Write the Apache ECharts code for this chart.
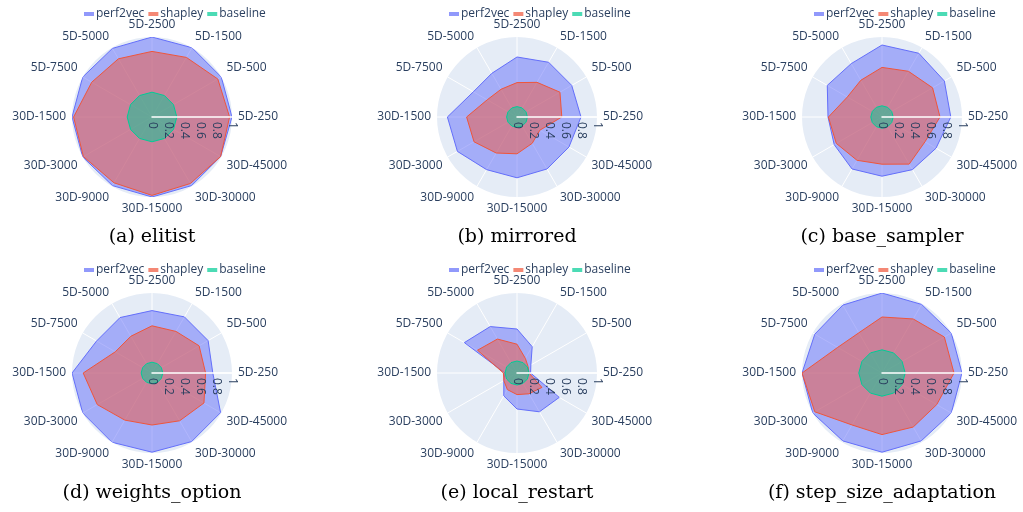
<!DOCTYPE html>
<html>
<head>
<meta charset="utf-8">
<script src="https://cdn.jsdelivr.net/npm/echarts@6/dist/echarts.min.js"></script>
<style>
  html, body { margin: 0; padding: 0; background: #fff; }
  #main { width: 1023px; height: 512px; }
</style>
</head>
<body>
<div id="main"></div>
<script>
// categories, counter-clockwise from the right
var categories = ['5D-250', '5D-500', '5D-1500', '5D-2500', '5D-5000', '5D-7500',
                  '30D-1500', '30D-3000', '30D-9000', '30D-15000', '30D-30000', '30D-45000'];
var radialTicks = [0, 0.2, 0.4, 0.6, 0.8, 1];
var seriesNames = ['perf2vec', 'shapley', 'baseline'];
var captions = ['(a) elitist', '(b) mirrored', '(c) base_sampler',
                '(d) weights_option', '(e) local_restart', '(f) step_size_adaptation'];

// (a) elitist
var elitist_perf2vec = [1.0, 1.0, 1.0, 1.0, 0.99, 1.0, 1.0, 1.0, 0.99, 1.0, 0.99, 0.99];
var elitist_shapley  = [0.97, 0.95, 0.86, 0.82, 0.84, 0.87, 0.98, 0.99, 0.95, 0.98, 0.96, 0.99];
var elitist_baseline = [0.31, 0.31, 0.31, 0.31, 0.31, 0.31, 0.31, 0.31, 0.31, 0.31, 0.31, 0.31];
// (b) mirrored
var mirrored_perf2vec = [0.80, 0.79, 0.79, 0.75, 0.63, 0.63, 0.87, 0.86, 0.76, 0.76, 0.75, 0.75];
var mirrored_shapley  = [0.56, 0.62, 0.50, 0.43, 0.40, 0.43, 0.63, 0.62, 0.52, 0.46, 0.38, 0.33];
var mirrored_baseline = [0.13, 0.13, 0.13, 0.13, 0.13, 0.13, 0.13, 0.13, 0.13, 0.13, 0.13, 0.13];
// (c) base_sampler
var sampler_perf2vec = [0.86, 0.90, 0.92, 0.90, 0.77, 0.79, 0.675, 0.69, 0.75, 0.74, 0.76, 0.78];
var sampler_shapley  = [0.725, 0.73, 0.66, 0.62, 0.53, 0.50, 0.67, 0.66, 0.625, 0.59, 0.68, 0.62];
var sampler_baseline = [0.14, 0.14, 0.14, 0.14, 0.14, 0.14, 0.14, 0.14, 0.14, 0.14, 0.14, 0.14];
// (d) weights_option
var weights_perf2vec = [0.76, 0.81, 0.81, 0.78, 0.80, 0.80, 1.0, 1.0, 1.0, 0.99, 0.99, 0.99];
var weights_shapley  = [0.67, 0.68, 0.60, 0.59, 0.53, 0.53, 0.86, 0.79, 0.68, 0.65, 0.69, 0.75];
var weights_baseline = [0.135, 0.135, 0.135, 0.135, 0.135, 0.135, 0.135, 0.135, 0.135, 0.135, 0.135, 0.135];
// (e) local_restart
var restart_perf2vec = [0.17, 0.20, 0.38, 0.55, 0.67, 0.76, 0.15, 0.19, 0.33, 0.45, 0.56, 0.61];
var restart_shapley  = [0.15, 0.16, 0.21, 0.36, 0.49, 0.57, 0.17, 0.19, 0.24, 0.27, 0.30, 0.36];
var restart_baseline = [0.15, 0.15, 0.15, 0.15, 0.15, 0.15, 0.15, 0.15, 0.15, 0.15, 0.15, 0.15];
// (f) step_size_adaptation
var stepsize_perf2vec = [1.0, 1.0, 0.99, 1.0, 0.98, 0.97, 1.0, 1.0, 0.98, 0.99, 0.98, 1.0];
var stepsize_shapley  = [0.90, 0.90, 0.78, 0.70, 0.58, 0.64, 1.0, 0.97, 0.75, 0.77, 0.78, 0.79];
var stepsize_baseline = [0.29, 0.29, 0.29, 0.29, 0.29, 0.29, 0.29, 0.29, 0.29, 0.29, 0.29, 0.29];

var panels = [
  [elitist_perf2vec, elitist_shapley, elitist_baseline],
  [mirrored_perf2vec, mirrored_shapley, mirrored_baseline],
  [sampler_perf2vec, sampler_shapley, sampler_baseline],
  [weights_perf2vec, weights_shapley, weights_baseline],
  [restart_perf2vec, restart_shapley, restart_baseline],
  [stepsize_perf2vec, stepsize_shapley, stepsize_baseline]
];

var colors = ['#636efa', '#ef553b', '#00cc96'];
var txt = '#2a3f5f';
var centersX = [152, 517, 882];
var centersY = [117, 373];
var R = 80;

function toPolar(vals) {
  var out = [];
  for (var i = 0; i < vals.length; i++) out.push([vals[i], i * 30]);
  out.push([vals[0], 360]);   // close the shape
  return out;
}

var option = {
  animation: false,
  polar: [], angleAxis: [], radiusAxis: [], legend: [], series: [], graphic: []
};

for (var k = 0; k < panels.length; k++) {
  var cx = centersX[k % 3], cy = centersY[Math.floor(k / 3)];
  var pData = 2 * k, pTop = 2 * k + 1;

  // polar with grid + data
  option.polar.push({ center: [cx, cy], radius: R });
  option.angleAxis.push({
    polarIndex: pData, type: 'value', min: 0, max: 360, interval: 30,
    startAngle: 0, clockwise: false,
    axisLine: { show: false }, axisTick: { show: false },
    splitLine: { lineStyle: { color: '#fff', width: 1 } },
    axisLabel: {
      margin: 6, color: txt, fontSize: 12, fontFamily: 'Open Sans',
      formatter: function (v) { return categories[Math.round(v / 30)] || ''; }
    }
  });
  option.radiusAxis.push({
    polarIndex: pData, type: 'value', min: 0, max: 1, interval: 0.2,
    axisLine: { show: false }, axisTick: { show: false }, axisLabel: { show: false },
    splitLine: { lineStyle: { color: '#fff', width: 1 } },
    splitArea: { show: true, areaStyle: { color: ['#e5ecf6'] } }
  });

  // polar on top for the radial axis line + tick labels
  option.polar.push({ center: [cx, cy], radius: R });
  option.angleAxis.push({
    polarIndex: pTop, type: 'value', min: 0, max: 360, startAngle: 0, clockwise: false,
    show: false
  });
  option.radiusAxis.push({
    polarIndex: pTop, type: 'value', min: 0, max: 1, interval: 0.2, z: 5,
    axisLine: { lineStyle: { color: '#fff', width: 1.5 } },
    axisTick: { show: false }, splitLine: { show: false },
    axisLabel: {
      rotate: -90, margin: -5, align: 'left', verticalAlign: 'middle',
      color: txt, fontSize: 12, fontFamily: 'Open Sans',
      formatter: function (v) { return radialTicks.indexOf(Math.round(v * 10) / 10) >= 0 ? String(Math.round(v * 10) / 10) : ''; }
    }
  });

  option.legend.push({
    data: seriesNames, left: cx - 73, top: cy - 114, orient: 'horizontal',
    icon: 'rect', itemWidth: 10, itemHeight: 4, itemGap: 4,
    itemStyle: { opacity: 0.7 },
    textStyle: { color: txt, fontSize: 12, fontFamily: 'Open Sans', padding: [0, 0, 0, -3] }
  });

  for (var s = 0; s < 3; s++) {
    option.series.push({
      name: seriesNames[s], type: 'line', coordinateSystem: 'polar', polarIndex: pData,
      data: toPolar(panels[k][s]), symbol: 'none', smooth: false,
      lineStyle: { color: colors[s], width: 1 },
      itemStyle: { color: colors[s] },
      areaStyle: { color: colors[s], opacity: 0.5 },
      z: 2 + s
    });
  }

  option.graphic.push({
    type: 'text', x: cx, y: cy + 120,
    style: { text: captions[k], fill: '#000', font: '19px "DejaVu Serif"', textAlign: 'center', textVerticalAlign: 'middle' }
  });
}

var myChart = echarts.init(document.getElementById('main'), null, { renderer: 'canvas' });
myChart.setOption(option);
</script>
</body>
</html>
